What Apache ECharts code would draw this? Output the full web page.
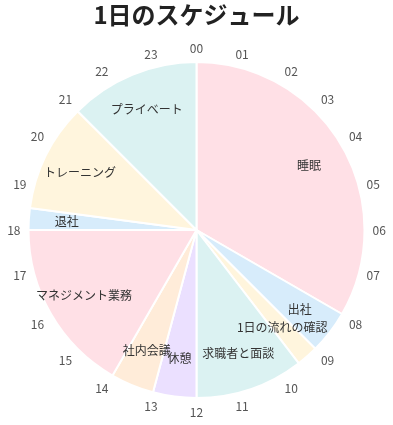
<!DOCTYPE html>
<html lang="ja">
<head>
  <meta charset="utf-8">
  <title>1日のスケジュール</title>
  <script type="text/javascript" src="https://cdn.jsdelivr.net/npm/echarts@6/dist/echarts.min.js"></script>
  <style type="text/css">
    * {
      margin: 0;
      padding: 0;
    }
    html, body, #chart {
      width: 100%;
      height: 100%;
      overflow: hidden;
      background: #fff;
    }
  </style>
</head>
<body>
  <div id="chart"></div>
  <script type="text/javascript">
    // 予定（時間）
    var tasks = ['睡眠', '出社', '1日の流れの確認', '求職者と面談', '休憩', '社内会議', 'マネジメント業務', '退社', 'トレーニング', 'プライベート'];
    var hours = [8, 1, 0.5, 2.5, 1, 1, 4, 0.5, 2.5, 3];
    // 時計の目盛り
    var hourLabels = ['00', '01', '02', '03', '04', '05', '06', '07', '08', '09', '10', '11',
      '12', '13', '14', '15', '16', '17', '18', '19', '20', '21', '22', '23'];
    var colors = ['#ffe0e6', '#d7ecfb', '#fff5dd', '#dbf2f2', '#ebe0ff', '#ffecd9',
      '#ffe0e6', '#d7ecfb', '#fff5dd', '#dbf2f2'];

    var font = '"Noto Sans CJK JP", "Noto Sans", sans-serif';
    var center = ['50%', 230];
    var R = 168;

    var pieData = tasks.map(function (name, i) {
      return { name: name, value: hours[i], itemStyle: { color: colors[i] } };
    });
    // ラベル用の透明なリング
    var labelData = tasks.map(function (name, i) {
      return { name: name, value: hours[i] };
    });

    var option = {
      animation: false,
      textStyle: { fontFamily: font },
      title: {
        text: '1日のスケジュール',
        left: 'center',
        top: -2,
        textStyle: { fontSize: 24, fontWeight: 'bold', color: '#222', fontFamily: font }
      },
      polar: { center: center, radius: R },
      angleAxis: {
        type: 'category',
        data: hourLabels,
        boundaryGap: false,
        startAngle: 90,
        clockwise: true,
        axisLine: { show: false },
        axisTick: { show: false },
        splitLine: { show: false },
        axisLabel: { margin: 8, color: '#555', fontSize: 12, fontFamily: font }
      },
      radiusAxis: { show: false },
      series: [
        {
          type: 'pie',
          center: center,
          radius: [0, R],
          startAngle: 90,
          clockwise: true,
          silent: true,
          data: pieData,
          itemStyle: { borderColor: '#fff', borderWidth: 2 },
          label: { show: false },
          labelLine: { show: false }
        },
        {
          type: 'pie',
          center: center,
          radius: [86, R],
          startAngle: 90,
          clockwise: true,
          silent: true,
          avoidLabelOverlap: false,
          data: labelData,
          itemStyle: { color: 'transparent', borderWidth: 0 },
          label: {
            show: true,
            position: 'inside',
            color: '#333',
            fontSize: 12,
            fontFamily: font
          },
          labelLayout: { hideOverlap: false },
          labelLine: { show: false }
        }
      ]
    };

    var chart = echarts.init(document.getElementById('chart'));
    chart.setOption(option);
  </script>
</body>
</html>
